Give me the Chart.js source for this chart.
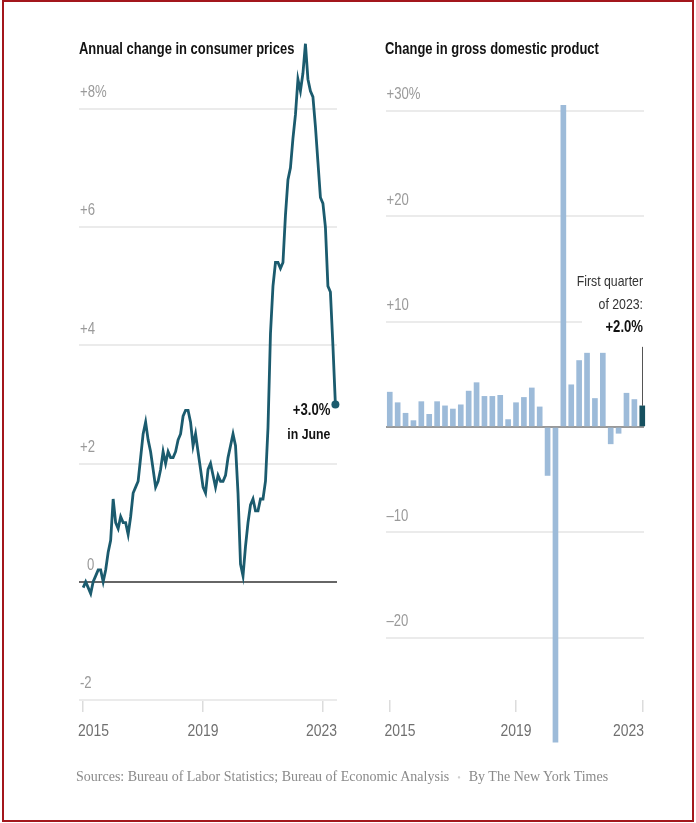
<!DOCTYPE html>
<html>
<head>
<meta charset="utf-8">
<script src="https://cdn.jsdelivr.net/npm/chart.js@4.4.0/dist/chart.umd.min.js"></script>
<style>
  html, body { margin: 0; padding: 0; background: #fff; }
  body { width: 696px; height: 823px; position: relative; overflow: hidden; }
  .frame { position: absolute; left: 2px; top: 0; width: 692px; height: 822px; border: 2px solid #a3171c; box-sizing: border-box; }
  .title { position: absolute; top: 40px; font: bold 16px "Liberation Sans", Arial, sans-serif; color: #121212; white-space: nowrap; transform: scaleX(0.81); transform-origin: 0 0; }
  .box { position: absolute; top: 0; height: 823px; }
  .source { position: absolute; left: 76px; top: 769px; font: 14px "Liberation Serif", serif; color: #8a8a8a; white-space: nowrap; }
  .source .dot { color: #d0d0d0; margin: 0 8px; font-size: 10px; }
</style>
</head>
<body>
<div class="frame"></div>
<div class="box" style="left:0;width:350px"><canvas id="cpiChart"></canvas></div>
<div class="box" style="left:350px;width:346px"><canvas id="gdpChart"></canvas></div>
<div class="title" style="left:79px">Annual change in consumer prices</div>
<div class="title" style="left:385px">Change in gross domestic product</div>
<div class="source">Sources: Bureau of Labor Statistics; Bureau of Economic Analysis<span class="dot">•</span>By The New York Times</div>

<script>
// CPI, year-over-year % change, monthly from Jan 2015 to June 2023
const cpiStart = 2015;
const cpiValues = [
  -0.1, 0.0, -0.1, -0.2, 0.0, 0.1, 0.2, 0.2, 0.0, 0.2, 0.5, 0.7,
  1.4, 1.0, 0.9, 1.1, 1.0, 1.0, 0.8, 1.1, 1.5, 1.6, 1.7, 2.1,
  2.5, 2.7, 2.4, 2.2, 1.9, 1.6, 1.7, 1.9, 2.2, 2.0, 2.2, 2.1,
  2.1, 2.2, 2.4, 2.5, 2.8, 2.9, 2.9, 2.7, 2.3, 2.5, 2.2, 1.9,
  1.6, 1.5, 1.9, 2.0, 1.8, 1.6, 1.8, 1.7, 1.7, 1.8, 2.1, 2.3,
  2.5, 2.3, 1.5, 0.3, 0.1, 0.6, 1.0, 1.3, 1.4, 1.2, 1.2, 1.4,
  1.4, 1.7, 2.6, 4.2, 5.0, 5.4, 5.4, 5.3, 5.4, 6.2, 6.8, 7.0,
  7.5, 7.9, 8.5, 8.3, 8.6, 9.1, 8.5, 8.3, 8.2, 7.7, 7.1, 6.5,
  6.4, 6.0, 5.0, 4.9, 4.0, 3.0
];

// GDP, annualized quarterly % change, Q1 2015 to Q1 2023
const gdpQuarters = [
  '2015 Q1', '2015 Q2', '2015 Q3', '2015 Q4',
  '2016 Q1', '2016 Q2', '2016 Q3', '2016 Q4',
  '2017 Q1', '2017 Q2', '2017 Q3', '2017 Q4',
  '2018 Q1', '2018 Q2', '2018 Q3', '2018 Q4',
  '2019 Q1', '2019 Q2', '2019 Q3', '2019 Q4',
  '2020 Q1', '2020 Q2', '2020 Q3', '2020 Q4',
  '2021 Q1', '2021 Q2', '2021 Q3', '2021 Q4',
  '2022 Q1', '2022 Q2', '2022 Q3', '2022 Q4',
  '2023 Q1'
];
const gdpValues = [
  3.3, 2.3, 1.3, 0.6,
  2.4, 1.2, 2.4, 2.0,
  1.7, 2.1, 3.4, 4.2,
  2.9, 2.9, 3.0, 0.7,
  2.3, 2.8, 3.7, 1.9,
  -4.6, -29.9, 30.5, 4.0,
  6.3, 7.0, 2.7, 7.0,
  -1.6, -0.6, 3.2, 2.6,
  2.0
];

const yearTicks = [2015, 2019, 2023];
const cpiTicks = [-2, 0, 2, 4, 6, 8];
const cpiTickLabels = ['-2', '0', '+2', '+4', '+6', '+8%'];
const gdpTicks = [-20, -10, 0, 10, 20, 30];
const gdpTickLabels = ['\u201320', '\u201310', '', '+10', '+20', '+30%'];

const LINE = '#1b5b6e';
const BAR = '#9dbbd9';
const BAR_LAST = '#16505f';
const SANS = '"Liberation Sans", Arial, sans-serif';

const cpiPoints = cpiValues.map((v, i) => ({ x: cpiStart + i / 12, y: v }));
const gdpPoints = gdpQuarters.map((q, i) => {
    const [yr, qq] = q.split(' Q');
    return { x: +yr + (qq - 1) / 4, y: gdpValues[i] };
});

// Liberation Sans squeezed to look like a narrow face
function narrowText(ctx, text, x, y, align, font, color) {
    ctx.save();
    ctx.font = font;
    ctx.fillStyle = color;
    ctx.textBaseline = 'middle';
    ctx.textAlign = 'left';
    const w = ctx.measureText(text).width * 0.82;
    const x0 = align === 'right' ? x - w : align === 'center' ? x - w / 2 : x;
    ctx.translate(x0, y);
    ctx.scale(0.82, 1);
    ctx.fillText(text, 0, 0);
    ctx.restore();
}

// tick labels: years under the x ticks, values above the grid lines
const axisLabels = {
    id: 'axisLabels',
    afterDraw(chart, args, opts) {
        const ctx = chart.ctx;
        const area = chart.chartArea;
        const sx = chart.scales.x;
        const sy = chart.scales.y;
        const last = sx.ticks.length - 1;
        sx.ticks.forEach((t, i) => {
            let x = sx.getPixelForValue(t.value), align = 'center';
            if (i === 0) { x = area.left - 1; align = 'left'; }
            if (i === last) { x = area.right; align = 'right'; }
            narrowText(ctx, String(t.value), x, area.bottom + 31, align, '17px ' + SANS, '#707070');
        });
        opts.ticks.forEach((v, i) => {
            const x = area.left + 1 + (v === 0 ? 7 : 0);
            narrowText(ctx, opts.labels[i], x, sy.getPixelForValue(v) - 16, 'left', '16px ' + SANS, '#9a9a9a');
        });
    }
};

const cpiNote = {
    id: 'cpiNote',
    afterDraw(chart) {
        const pts = chart.getDatasetMeta(0).data;
        const p = pts[pts.length - 1];
        const ctx = chart.ctx;
        narrowText(ctx, '+' + cpiValues[cpiValues.length - 1].toFixed(1) + '%', p.x - 5, p.y + 6, 'right', 'bold 16px ' + SANS, '#121212');
        narrowText(ctx, 'in June', p.x - 5, p.y + 30, 'right', 'bold 15px ' + SANS, '#121212');
    }
};

const gdpNote = {
    id: 'gdpNote',
    beforeDatasetsDraw(chart) {
        const ctx = chart.ctx;
        const b = chart.getDatasetMeta(0).data[gdpValues.length - 1];
        ctx.save();
        ctx.fillStyle = '#fff';
        ctx.fillRect(chart.chartArea.right - 62, b.y - 136, 64, 70);
        ctx.restore();
    },
    afterDraw(chart) {
        const ctx = chart.ctx;
        const b = chart.getDatasetMeta(0).data[gdpValues.length - 1];
        const right = chart.chartArea.right - 1;
        ctx.save();
        ctx.strokeStyle = '#555';
        ctx.lineWidth = 1;
        ctx.beginPath();
        ctx.moveTo(Math.round(b.x) + 0.5, b.y);
        ctx.lineTo(Math.round(b.x) + 0.5, b.y - 59);
        ctx.stroke();
        ctx.restore();
        narrowText(ctx, 'First quarter', right, b.y - 124, 'right', '15px ' + SANS, '#333');
        narrowText(ctx, 'of 2023:', right, b.y - 101, 'right', '15px ' + SANS, '#333');
        narrowText(ctx, '+' + gdpValues[gdpValues.length - 1].toFixed(1) + '%', right, b.y - 78, 'right', 'bold 16px ' + SANS, '#121212');
    }
};

function yAxis(min, max, ticks, zeroColor) {
    return {
        min: min,
        max: max,
        afterBuildTicks: s => { s.ticks = ticks.map(v => ({ value: v })); },
        ticks: { display: false },
        grid: {
            drawTicks: false,
            color: c => c.tick && c.tick.value === 0 ? zeroColor : '#ebebeb',
            lineWidth: 2
        },
        border: { display: false }
    };
}

function xAxis(min, max) {
    return {
        type: 'linear',
        min: min,
        max: max,
        offset: false,
        afterBuildTicks: s => { s.ticks = yearTicks.map(v => ({ value: v })); },
        ticks: { display: false },
        grid: {
            offset: false,
            drawOnChartArea: false,
            drawTicks: true,
            tickLength: 12,
            color: '#dcdcdc',
            lineWidth: 1.5
        },
        border: { display: false }
    };
}

function baseOptions(padding) {
    return {
        responsive: true,
        maintainAspectRatio: false,
        animation: false,
        layout: { padding: padding },
        plugins: { legend: { display: false }, tooltip: { enabled: false } }
    };
}

const cpiOptions = baseOptions({ left: 79, right: 13, top: 39, bottom: 111 });
cpiOptions.scales = { x: xAxis(2014.86, 2023.47), y: yAxis(-2, 9.18, cpiTicks, '#666') };
cpiOptions.plugins.axisLabels = { ticks: cpiTicks, labels: cpiTickLabels };

new Chart(document.getElementById('cpiChart').getContext('2d'), {
    type: 'line',
    data: {
        datasets: [{
            data: cpiPoints,
            borderColor: LINE,
            borderWidth: 2.8,
            tension: 0,
            pointRadius: c => c.dataIndex === cpiValues.length - 1 ? 4 : 0,
            pointBackgroundColor: LINE,
            pointBorderWidth: 0,
            clip: false
        }]
    },
    options: cpiOptions,
    plugins: [axisLabels, cpiNote]
});

const gdpOptions = baseOptions({ left: 35.5, right: 52, top: 39, bottom: 111 });
gdpOptions.scales = { x: xAxis(2014.865, 2023.055), y: yAxis(-25.9, 36.8, gdpTicks, '#999') };
gdpOptions.plugins.axisLabels = { ticks: gdpTicks, labels: gdpTickLabels };

new Chart(document.getElementById('gdpChart').getContext('2d'), {
    type: 'bar',
    data: {
        datasets: [{
            data: gdpPoints,
            backgroundColor: c => c.dataIndex === gdpValues.length - 1 ? BAR_LAST : BAR,
            barThickness: 5,
            borderWidth: 0,
            clip: false
        }]
    },
    options: gdpOptions,
    plugins: [axisLabels, gdpNote]
});
</script>
</body>
</html>
